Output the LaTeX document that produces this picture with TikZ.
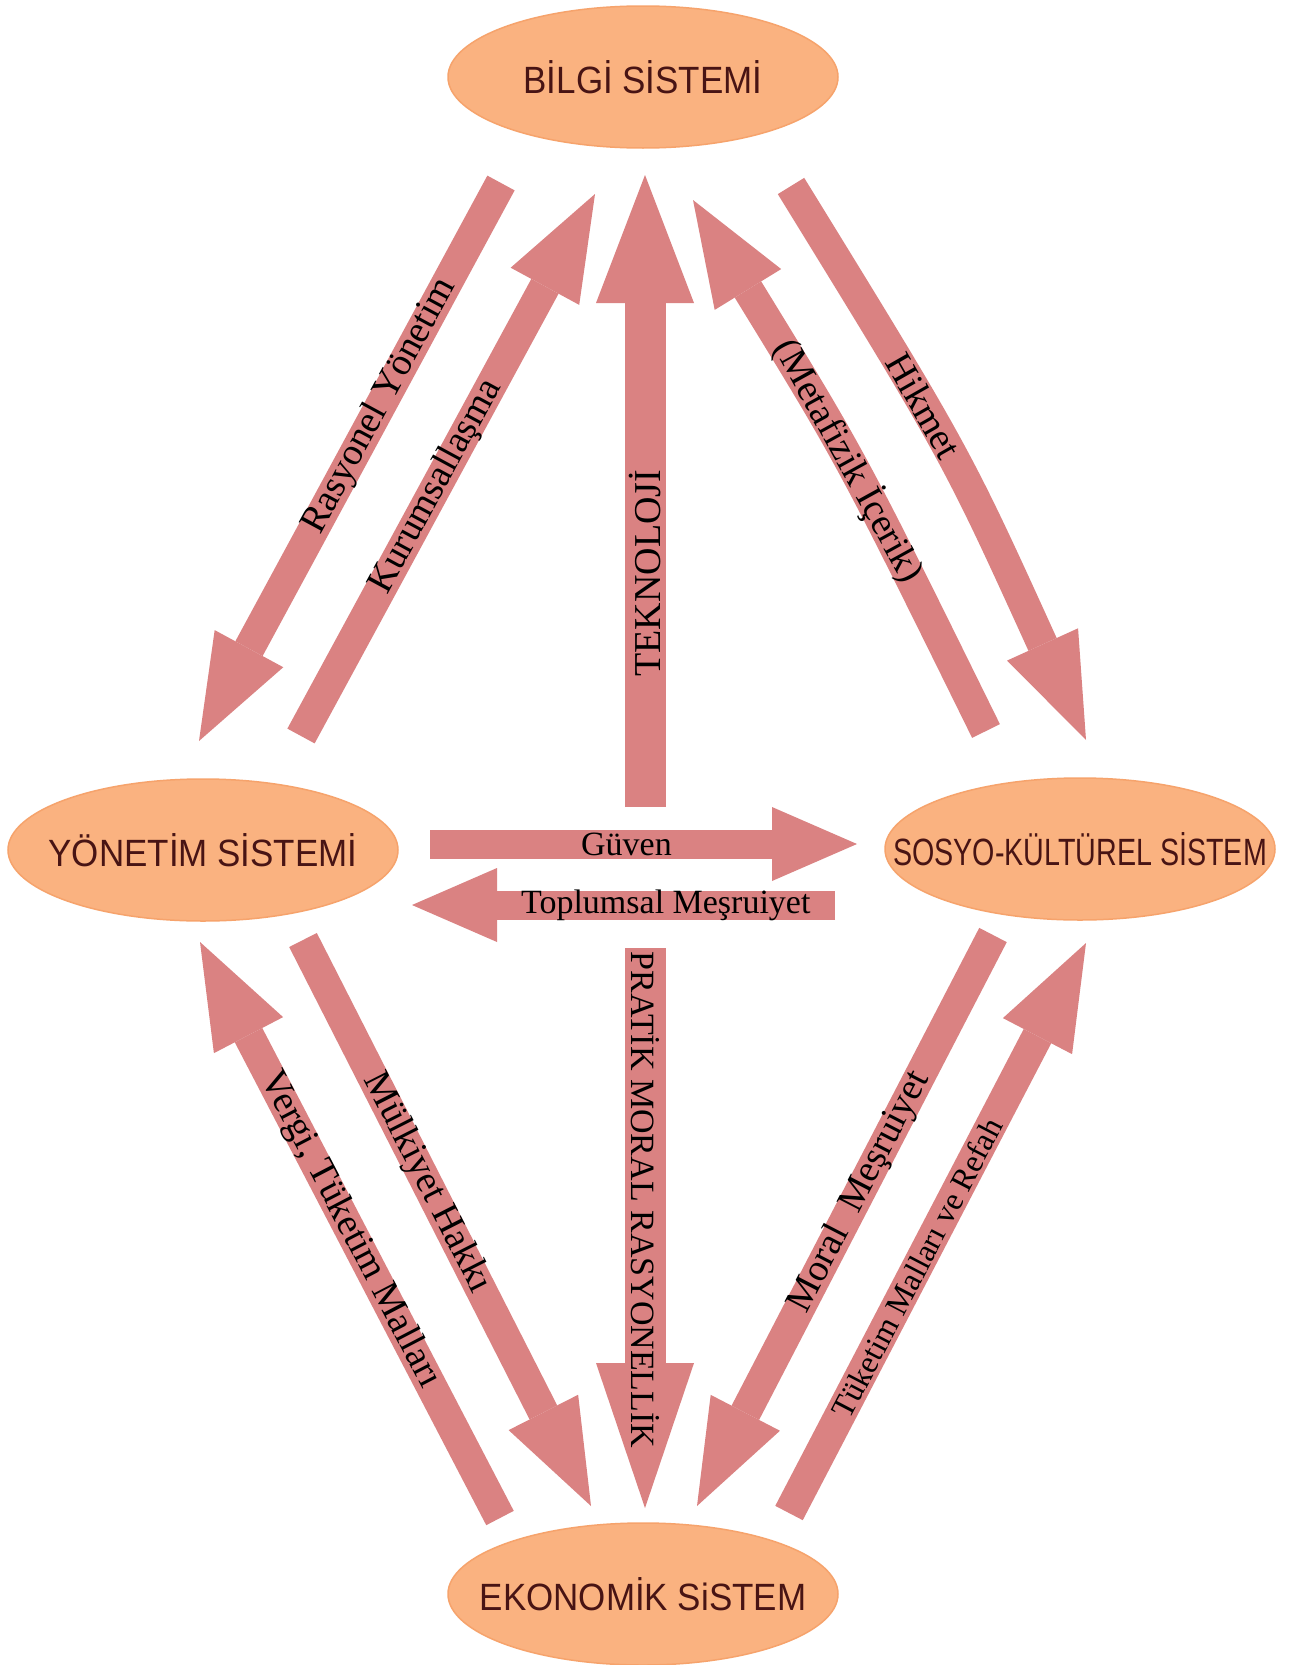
\documentclass[tikz,border=0pt]{standalone}
\usepackage{fontspec}
\setmainfont{Liberation Serif}
\newfontfamily\sysfont[FakeStretch=0.92]{Liberation Sans}
\usetikzlibrary{arrows.meta,shapes.geometric}
\definecolor{arrc}{RGB}{218,130,130}
\definecolor{ellfill}{RGB}{250,178,128}
\definecolor{elldraw}{RGB}{246,163,108}
\definecolor{systxt}{RGB}{72,20,20}
\begin{document}
\begin{tikzpicture}[x=1pt,y=-1pt,
  sysnode/.style={ellipse, fill=ellfill, draw=elldraw, line width=1.5pt, minimum width=390pt, minimum height=142pt, inner sep=0pt},
  systext/.style={font=\sysfont\fontsize{38}{40}\selectfont, text=systxt, inner sep=0pt},
  blockarr/.style={draw=arrc, line width=31pt, -{Triangle[length=105pt,width=78pt,line width=0pt]}},
  vertarr/.style={draw=arrc, line width=41pt, -{Triangle[length=#1,width=98pt,line width=0pt]}},
  horarr/.style={draw=arrc, line width=29pt, -{Triangle[length=85pt,width=74pt,line width=0pt]}},
  lbl/.style={font=\fontsize{38}{40}\selectfont, text=black, inner sep=0pt, sloped},
  hlbl/.style={font=\fontsize{34}{36}\selectfont, text=black, inner sep=0pt}
]
\useasboundingbox (0,0) rectangle (1296,1665);
\fill[white] (0,0) rectangle (1296,1665);

% systems
\node[sysnode] (bilgi) at (643,77) {};
\node[systext] (bilgit) at (bilgi) {BİLGİ SİSTEMİ};
\node[sysnode] (yon) at (203,850) {};
\node[systext] (yont) at (yon) {YÖNETİM SİSTEMİ};
\node[sysnode] (sos) at (1080,849) {};
\node[systext] (sost) at (sos) {\scalebox{0.82}[1]{SOSYO-KÜLTÜREL SİSTEM}};
\node[sysnode] (eko) at (643,1594) {};
\node[systext] (ekot) at (eko) {EKONOMİK SiSTEM};

% arrow ends
\coordinate (rA) at (501,183);  \coordinate (rB) at (199,741);
\coordinate (kA) at (301,736);  \coordinate (kB) at (595,194);
\coordinate (tA) at (645,807);  \coordinate (tB) at (645,175);
\coordinate (mA) at (986,731);  \coordinate (mB) at (693,200);
\coordinate (mC) at (852,459);
\coordinate (hA) at (791,186);  \coordinate (hB) at (1086,740);
\coordinate (hC) at (956,454);
\coordinate (gA) at (430,844);  \coordinate (gB) at (857,844);
\coordinate (sA) at (835,905);  \coordinate (sB) at (412,905);
\coordinate (pA) at (645,948);  \coordinate (pB) at (645,1508);
\coordinate (vA) at (500,1518); \coordinate (vB) at (200,942);
\coordinate (uA) at (303,940);  \coordinate (uB) at (591,1506);
\coordinate (oA) at (993,935);  \coordinate (oB) at (697,1506);
\coordinate (eA) at (789,1513); \coordinate (eB) at (1086,943);

% upper arrows
\draw[blockarr] (rA) -- (rB) node[lbl,pos=0.4] (l1) {Rasyonel Yönetim};
\draw[blockarr] (kA) -- (kB) node[lbl,pos=0.46] (l2) {Kurumsallaşma};
\draw[vertarr=128pt] (tA) -- (tB) node[hlbl,font=\fontsize{38}{40}\selectfont,pos=0.37,rotate=90] (l3) {TEKNOLOJİ};
\draw[blockarr] (mA) .. controls (mC) .. (mB) node[lbl,pos=0.5] (l4) {(Metafizik İçerik)};
\draw[blockarr] (hA) .. controls (hC) .. (hB) node[lbl,pos=0.38] (l5) {Hikmet};

% middle arrows
\draw[horarr] (gA) -- (gB) node[hlbl,pos=0.46] (l6) {Güven};
\draw[horarr] (sA) -- (sB) node[hlbl,pos=0.40] (l7) {Toplumsal Meşruiyet};

% lower arrows
\draw[vertarr=145pt] (pA) -- (pB) node[hlbl,pos=0.45,rotate=-90] (l8) {PRATİK MORAL RASYONELLİK};
\draw[blockarr] (vA) -- (vB) node[lbl,pos=0.5] (l9) {Vergi, Tüketim Malları};
\draw[blockarr] (uA) -- (uB) node[lbl,pos=0.43] (l10) {Mülkiyet Hakkı};
\draw[blockarr] (oA) -- (oB) node[lbl,pos=0.45] (l11) {Moral~ Meşruiyet};
\draw[blockarr] (eA) -- (eB) node[lbl,font=\fontsize{32}{34}\selectfont,pos=0.43] (l12) {Tüketim Malları ve Refah};
\end{tikzpicture}
\end{document}
